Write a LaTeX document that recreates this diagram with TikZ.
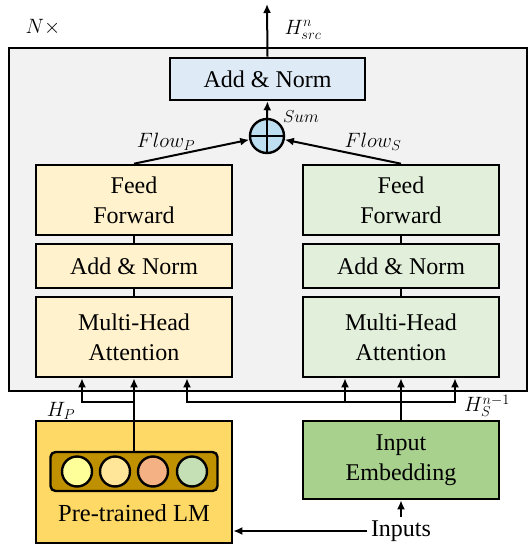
\documentclass[tikz,border=0pt]{standalone}
\usepackage{fontspec}
\setmainfont{Liberation Serif}
\usetikzlibrary{calc,arrows.meta}

\definecolor{boxgray}{HTML}{F2F2F2}
\definecolor{normblue}{HTML}{DEEBF7}
\definecolor{sumblue}{HTML}{BDDFF0}
\definecolor{lmyellow}{HTML}{FFF2CC}
\definecolor{srcgreen}{HTML}{E2EFDA}
\definecolor{lmgold}{HTML}{FFD966}
\definecolor{vecgold}{HTML}{BF9000}
\definecolor{embgreen}{HTML}{A9D18E}
\definecolor{tokA}{HTML}{FFFF99}
\definecolor{tokB}{HTML}{FFE699}
\definecolor{tokC}{HTML}{F4B183}
\definecolor{tokD}{HTML}{C5E0B4}

\tikzset{
  blk/.style={draw,line width=2.6pt,minimum width=196pt,align=center,
    font=\rmfamily\fontsize{24}{30}\selectfont},
  arr/.style={line width=2pt,-{Latex[length=9pt,width=8pt]}},
  lbl/.style={font=\fontsize{22}{24}\selectfont},
}

\begin{document}
\begin{tikzpicture}[x=1pt,y=-1pt]
  \useasboundingbox (0,0) rectangle (529,544);
  \draw[fill=boxgray,line width=2.6pt] (9,48) rectangle (527,391);

  \node[lbl] (times) at (43,27) {$N\times$};

  % top of the layer
  \node[blk,fill=normblue,minimum width=195pt,minimum height=42pt] (topnorm) at (267.5,79) {Add \& Norm};
  \coordinate (out) at (267,4);
  \node[lbl] (hsrc) at (303,30) {$H^{n}_{src}$};
  \node[draw,circle,fill=sumblue,line width=2.4pt,minimum size=34pt,inner sep=0pt] (sum) at (267,136) {};
  \draw[line width=2.4pt] (sum.north) -- (sum.south) (sum.west) -- (sum.east);
  \node[font=\fontsize{16}{18}\selectfont] (sumlbl) at (301,117) {$Sum$};

  % two columns
  \node[blk,fill=lmyellow,minimum height=70pt] (ffP) at (134,200) {Feed\\Forward};
  \node[blk,fill=lmyellow,minimum height=44pt] (anP) at (134,266) {Add \& Norm};
  \node[blk,fill=lmyellow,minimum height=80pt] (mhaP) at (134,337) {Multi-Head\\Attention};
  \node[blk,fill=srcgreen,minimum height=70pt] (ffS) at (401,200) {Feed\\Forward};
  \node[blk,fill=srcgreen,minimum height=44pt] (anS) at (401,266) {Add \& Norm};
  \node[blk,fill=srcgreen,minimum height=80pt] (mhaS) at (401,337) {Multi-Head\\Attention};

  \node[lbl] (flowP) at (166,142) {$Flow_{P}$};
  \node[lbl] (flowS) at (373,142) {$Flow_{S}$};

  % inputs side
  \node[blk,fill=lmgold,minimum height=122pt] (lm) at (134,482) {};
  \node[draw,line width=2.4pt,rounded corners=5pt,fill=vecgold,minimum width=167pt,minimum height=39pt] (lmvec) at (134,471.5) {};
  \foreach \cx/\col in {77/tokA,115/tokB,153/tokC,192/tokD}
    \draw[line width=2.4pt,fill=\col] (\cx,471.5) circle [radius=15pt];
  \node[font=\rmfamily\fontsize{24.5}{26}\selectfont] (lmtext) at (134,513) {Pre-trained LM};
  \node[blk,fill=embgreen,minimum height=78pt] (emb) at (401,460) {Input\\Embedding};
  \node[font=\rmfamily\fontsize{24}{26}\selectfont] (inputs) at (401,531) {Inputs};

  \node[lbl] (hp) at (61,411) {$H_{P}$};
  \node[lbl] (hs) at (487,406) {$H^{n-1}_{S}$};

  \coordinate (jp) at (134,402);
  \coordinate (js) at (401,402);

  % connectors
  \draw[line width=2pt] (ffP.south) -- (anP.north) (anP.south) -- (mhaP.north);
  \draw[line width=2pt] (ffS.south) -- (anS.north) (anS.south) -- (mhaS.north);
  \draw[arr] (topnorm.north) -- (out);
  \draw[arr] (sum.north) -- (topnorm.south);
  \draw[arr] (ffP.north) -- (sum);
  \draw[arr] (ffS.north) -- (sum);
  \draw[arr] (lmvec.north) -- (mhaP.south);
  \draw[arr] (jp) -| ([xshift=-52pt]mhaP.south);
  \draw[arr] (emb.north) -- (mhaS.south);
  \draw[arr] (js) -| ([xshift=-56pt]mhaS.south);
  \draw[arr] (js) -| ([xshift=54pt]mhaS.south);
  \draw[arr] (js) -| ([xshift=53pt]mhaP.south);
  \draw[arr] (inputs.north) -- (emb.south);
  \draw[arr] (inputs.west) -- (inputs.west -| lm.east);
\end{tikzpicture}
\end{document}
